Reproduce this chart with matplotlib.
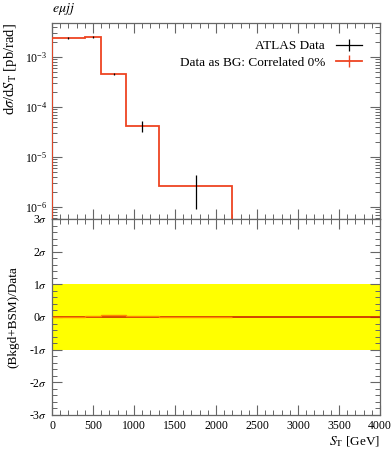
import numpy as np
import matplotlib.pyplot as plt
from matplotlib.lines import Line2D
from matplotlib.ticker import MultipleLocator, LogLocator, NullFormatter, FixedLocator

plt.rcParams['font.family'] = ['Liberation Serif', 'DejaVu Serif']
plt.rcParams['mathtext.fontset'] = 'stix'

# bin edges in S_T [GeV]
edges = [0, 400, 600, 900, 1300, 2200]
centres = [200, 500, 750, 1100, 1750]

# ATLAS data
data = [2.4e-3, 2.5e-3, 4.6e-4, 4.2e-5, 2.6e-6]
data_err = [1.2e-4, 1.5e-4, 2.5e-5, 1.0e-5, 1.7e-6]

# background prediction (data as BG, correlated 0%)
mc = [2.4e-3, 2.5e-3, 4.6e-4, 4.2e-5, 2.6e-6]

# ratio panel deviations in sigma
pull = [0.0, 0.02, 0.06, 0.03, 0.0]

red = '#ee4422'
frame = '#666666'

fig = plt.figure(figsize=(3.92, 4.5), dpi=100)
ax = fig.add_axes([0.1327, 0.5133, 0.8367, 0.4356])
axr = fig.add_axes([0.1327, 0.0778, 0.8367, 0.4356])

# main panel
ax.stairs(mc, edges, color=red, linewidth=1.3, zorder=3)
ax.errorbar(centres, data, yerr=data_err, fmt='none', ecolor='black',
            elinewidth=0.9, zorder=4)
ax.set_yscale('log')
ax.set_xlim(0, 4000)
ax.set_ylim(5.75e-7, 4.8e-3)
ax.set_ylabel(r'd$\sigma$/d$S_\mathrm{T}$ [pb/rad]', fontsize=10.5, loc='top')
ax.yaxis.set_label_coords(-0.1, 1.0)
ax.set_title(r'$e\mu jj$', loc='left', fontsize=10, pad=8)
ax.xaxis.set_major_locator(MultipleLocator(500))
ax.xaxis.set_minor_locator(MultipleLocator(100))
ax.set_xticklabels([])
ax.yaxis.set_major_locator(LogLocator(base=10, numticks=10))
ax.yaxis.set_minor_locator(LogLocator(base=10, subs=np.arange(2, 10), numticks=20))
ax.yaxis.set_minor_formatter(NullFormatter())

handles = [
    Line2D([0], [0], color='black', linewidth=0.9, marker='|',
           markersize=9, markeredgewidth=0.9),
    Line2D([0], [0], color=red, linewidth=1.3, marker='|',
           markersize=9, markeredgewidth=1.0),
]
ax.legend(handles, ['ATLAS Data', 'Data as BG: Correlated 0%'],
          loc='upper right', frameon=False, markerfirst=False,
          fontsize=9.5, handlelength=2.0, borderaxespad=0.6,
          labelspacing=0.3, bbox_to_anchor=(0.985, 0.98))

# ratio panel
axr.axhspan(-1, 1, color='#ffff00', linewidth=0, zorder=1)
axr.axhline(0, color='#cc2200', linewidth=1.2, zorder=2)
axr.stairs(pull, edges, color='#ff8800', linewidth=1.0, zorder=3)
axr.set_xlim(0, 4000)
axr.set_ylim(-3, 3)
axr.yaxis.set_major_locator(FixedLocator([-3, -2, -1, 0, 1, 2, 3]))
axr.set_yticklabels([r'-3$\sigma$', r'-2$\sigma$', r'-1$\sigma$', r'0$\sigma$',
                     r'1$\sigma$', r'2$\sigma$', r'3$\sigma$'])
axr.yaxis.set_minor_locator(MultipleLocator(0.2))
axr.xaxis.set_major_locator(MultipleLocator(500))
axr.xaxis.set_minor_locator(MultipleLocator(100))
axr.set_ylabel('(Bkgd+BSM)/Data', fontsize=9.5)
axr.yaxis.set_label_coords(-0.1, 0.5)
axr.set_xlabel(r'$S_\mathrm{T}$ [GeV]', fontsize=9.5, loc='right', labelpad=2)

for a in (ax, axr):
    for s in a.spines.values():
        s.set_color(frame)
        s.set_linewidth(0.9)
    a.tick_params(which='both', direction='in', top=True, right=True,
                  color=frame, labelsize=8.5)
    a.tick_params(which='major', length=7, width=0.8)
    a.tick_params(which='minor', length=3.5, width=0.7)

fig.savefig('out.png', dpi=100)
